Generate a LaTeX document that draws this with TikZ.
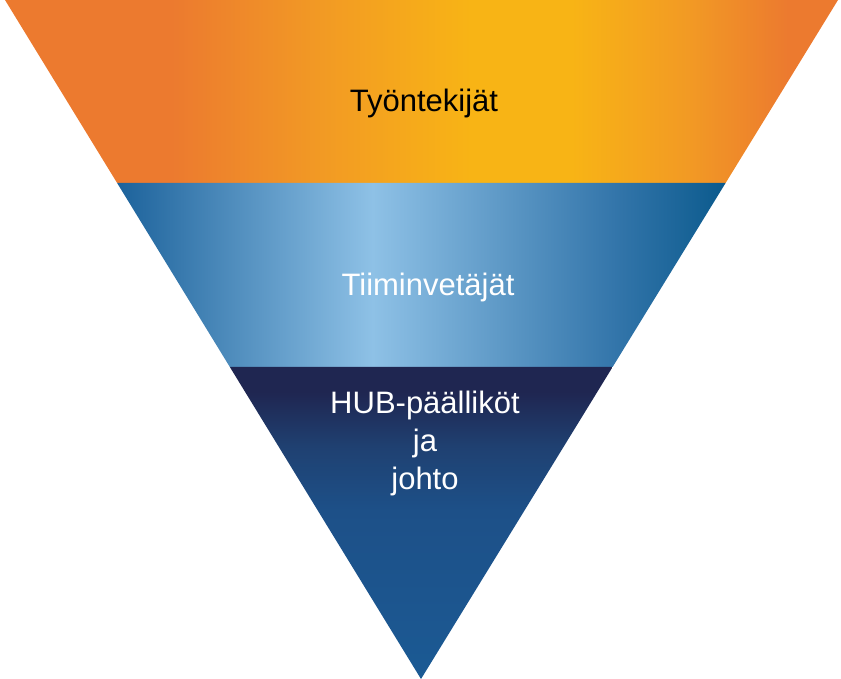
\documentclass[tikz,border=0pt]{standalone}
\usepackage{fontspec}
\setmainfont{Liberation Sans}
\usetikzlibrary{calc}

\definecolor{edgeorange}{HTML}{EC7A2F}
\definecolor{midorange}{HTML}{F29A24}
\definecolor{peakyellow}{HTML}{F8B415}
\definecolor{edgeblue}{HTML}{1C629B}
\definecolor{darkblue}{HTML}{0B5A8D}
\definecolor{lightblue}{HTML}{8EC1E6}
\definecolor{navy}{HTML}{1F2651}
\definecolor{inkblue}{HTML}{1F4172}
\definecolor{seablue}{HTML}{1D5088}
\definecolor{deepblue}{HTML}{1B5A94}

\pgfdeclarehorizontalshading{orangeband}{100bp}{
	color(0bp)=(edgeorange); color(25bp)=(edgeorange);
	color(35bp)=(edgeorange); color(44bp)=(midorange);
	color(53bp)=(peakyellow); color(59bp)=(peakyellow);
	color(66bp)=(midorange); color(72bp)=(edgeorange);
	color(100bp)=(edgeorange)}
\pgfdeclarehorizontalshading{blueband}{100bp}{
	color(0bp)=(edgeblue); color(25bp)=(edgeblue);
	color(46bp)=(lightblue); color(66bp)=(edgeblue!80!lightblue);
	color(75bp)=(darkblue); color(100bp)=(darkblue)}
\pgfdeclareverticalshading{navyband}{100bp}{
	color(0bp)=(deepblue); color(25bp)=(deepblue);
	color(52bp)=(seablue); color(62bp)=(inkblue);
	color(71bp)=(navy); color(100bp)=(navy)}

\begin{document}
\begin{tikzpicture}[x=1pt, y=-1pt,
	every node/.style = {align=center, font=\fontsize{31}{38}\selectfont}]
		\useasboundingbox (0,0) rectangle (841,679);
		% corners of the funnel
		\coordinate (tl) at (5,0);
		\coordinate (tr) at (838,0);
		\coordinate (apex) at (421,679);
		\coordinate (al) at ($(tl)!0.2695!(apex)$);
		\coordinate (ar) at ($(tr)!0.2695!(apex)$);
		\coordinate (bl) at ($(tl)!0.5405!(apex)$);
		\coordinate (br) at ($(tr)!0.5405!(apex)$);
		% bands
		\shade[shading=orangeband] (tl) -- (tr) -- (ar) -- (al) -- cycle;
		\shade[shading=blueband] (al) -- (ar) -- (br) -- (bl) -- cycle;
		\shade[shading=navyband] (bl) -- (br) -- (apex) -- cycle;
		% texts
		\node (staff) at (424,103) {Työntekijät};
		\node[text=white] (leads) at (428,287) {Tiiminvetäjät};
		\node[text=white] (mgmt) at (425,443) {HUB-päälliköt\\ja\\johto};
		\end{tikzpicture}
\end{document}
